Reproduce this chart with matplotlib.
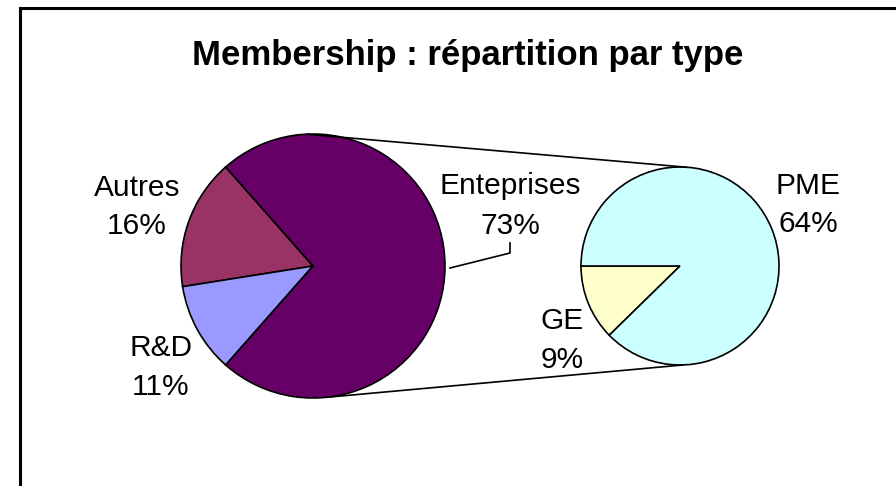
import numpy as np
import matplotlib
matplotlib.use("Agg")
import matplotlib.pyplot as plt
from matplotlib.patches import Rectangle

plt.rcParams['font.family'] = ['Liberation Sans', 'DejaVu Sans']

title = "Membership : répartition par type"

# main pie
main_labels = ["Autres", "R&D", "Enteprises"]
main_values = [16, 11, 73]
main_colors = ["#993366", "#9999FF", "#660066"]

# secondary pie (breakdown of Enteprises)
sub_labels = ["GE", "PME"]
sub_values = [9, 64]
sub_colors = ["#FFFFCC", "#CCFFFF"]

W, H = 896, 486
fig = plt.figure(figsize=(W / 100, H / 100), dpi=100)
ax = fig.add_axes([0, 0, 1, 1])

def py(y):
    return H - y

main_c = (313, py(266)); main_r = 132
sub_c = (680, py(266)); sub_r = 99

ent_share = main_values[2] / sum(main_values) * 360
ax.pie(main_values, colors=main_colors, startangle=ent_share / 2, counterclock=True,
       center=main_c, radius=main_r, frame=True,
       wedgeprops=dict(edgecolor='black', linewidth=1.2))
ax.pie(sub_values, colors=sub_colors, startangle=180, counterclock=True,
       center=sub_c, radius=sub_r, frame=True,
       wedgeprops=dict(edgecolor='black', linewidth=1.2))
ax.set_xlim(0, W)
ax.set_ylim(0, H)
ax.set_aspect('equal')
ax.axis('off')

def pt(c, r, ang):
    a = np.deg2rad(ang)
    return c[0] + r * np.cos(a), c[1] + r * np.sin(a)

# connector lines
for a1, a2 in [(93, 86), (-84, -88)]:
    x1, y1 = pt(main_c, main_r, a1)
    x2, y2 = pt(sub_c, sub_r, a2)
    ax.plot([x1, x2], [y1, y2], color='black', lw=1.2, solid_capstyle='butt')

fs = 21.5
lab = dict(fontsize=fs, ha='center', va='center', linespacing=1.5)
ax.text(137, py(207), f"{main_labels[0]}\n{main_values[0]}%", **lab)
ax.text(161, py(367.5), f"{main_labels[1]}\n{main_values[1]}%", **lab)
ax.text(510, py(206), f"{main_labels[2]}\n{main_values[2]}%", **lab)
ax.text(562, py(340.5), f"{sub_labels[0]}\n{sub_values[0]}%", **lab)
ax.text(808, py(205), f"{sub_labels[1]}\n{sub_values[1]}%", **lab)

# leader line for Enteprises
ax.plot([450, 510, 510], [py(268), py(253), py(243)], color='black', lw=1.2)

ax.text(468, py(56), title, fontsize=25, fontweight='bold', ha='center', va='center')

ax.add_patch(Rectangle((20, -20), 900, py(8) + 20, fill=False, edgecolor='black',
                       linewidth=2.2, clip_on=False))

fig.savefig("out.png", dpi=100)
